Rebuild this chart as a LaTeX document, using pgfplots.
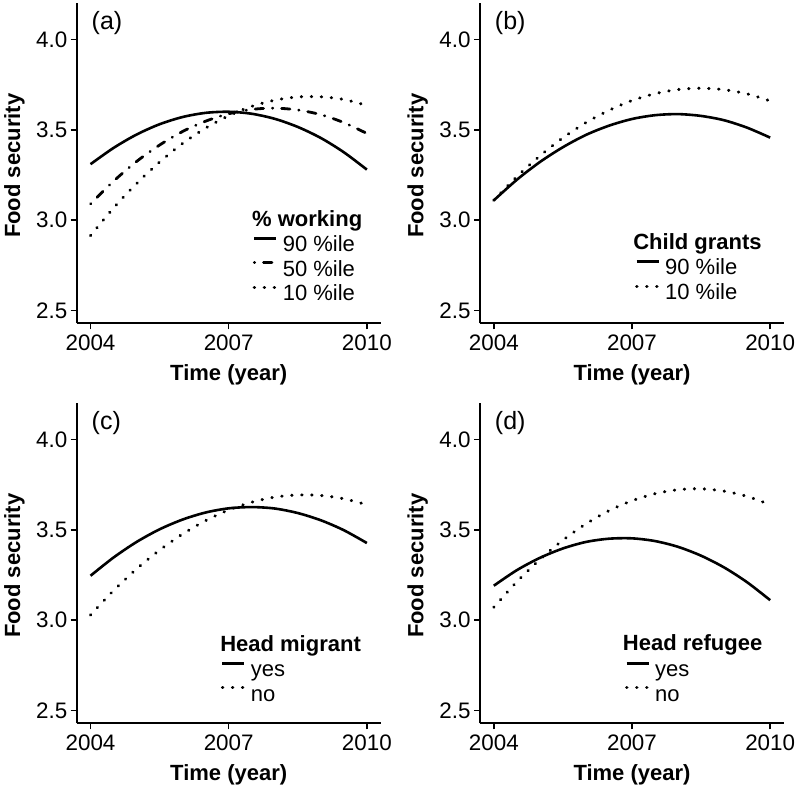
\documentclass[border=0pt]{standalone}
\usepackage{fontspec}
\setmainfont{Liberation Sans}
\usepackage{pgfplots}
\usepackage{pgfplotstable}
\pgfplotsset{compat=1.18}

\pgfplotstableread{
t s m d
2004   3.310 3.091 2.915
2004.5 3.400 3.216 3.068
2005   3.474 3.325 3.203
2005.5 3.531 3.416 3.322
2006   3.571 3.491 3.425
2006.5 3.594 3.548 3.510
2007   3.600 3.589 3.578
2007.5 3.589 3.613 3.630
2008   3.561 3.620 3.664
2008.5 3.516 3.610 3.682
2009   3.455 3.584 3.683
2009.5 3.376 3.540 3.668
2010   3.280 3.480 3.635
}\tablea
\pgfplotstableread{
t s d
2004   3.110 3.111
2004.5 3.224 3.241
2005   3.322 3.356
2005.5 3.404 3.456
2006   3.472 3.540
2006.5 3.523 3.608
2007   3.560 3.662
2007.5 3.581 3.700
2008   3.587 3.723
2008.5 3.577 3.730
2009   3.553 3.722
2009.5 3.512 3.699
2010   3.457 3.660
}\tableb
\pgfplotstableread{
t s d
2004   3.246 3.029
2004.5 3.347 3.164
2005   3.433 3.284
2005.5 3.503 3.388
2006   3.557 3.477
2006.5 3.596 3.551
2007   3.619 3.610
2007.5 3.626 3.653
2008   3.618 3.681
2008.5 3.593 3.693
2009   3.553 3.690
2009.5 3.498 3.672
2010   3.427 3.639
}\tablec
\pgfplotstableread{
t s d
2004   3.191 3.072
2004.5 3.277 3.213
2005   3.345 3.336
2005.5 3.397 3.443
2006   3.433 3.533
2006.5 3.451 3.606
2007   3.453 3.661
2007.5 3.438 3.700
2008   3.406 3.722
2008.5 3.357 3.727
2009   3.292 3.714
2009.5 3.210 3.685
2010   3.111 3.639
}\tabled

\tikzset{
  solidline/.style={black, line width=1.3pt},
  dotline/.style={black, line width=1.55pt, line cap=round, dash pattern=on 0.2pt off 4.8pt},
  dashdotline/.style={black, line width=1.4pt, line cap=round, dash pattern=on 0.2pt off 4.4pt on 4.2pt off 4.4pt},
  plabel/.style={anchor=base west, inner sep=0pt, font=\fontsize{12.5}{14}\selectfont},
  ltitle/.style={anchor=base west, inner sep=0pt, font=\fontsize{11}{13}\selectfont\bfseries},
}
\pgfplotsset{
  panel/.style={
    scale only axis, width=152pt, height=160pt,
    xmin=2003.7, xmax=2010.3, ymin=2.43, ymax=4.2,
    axis x line*=bottom, axis y line*=left,
    axis line style={line width=1pt, black},
    xtick={2004,2007,2010}, xticklabels={2004,2007,2010},
    ytick={2.5,3,3.5,4}, yticklabels={2.5,3.0,3.5,4.0},
    tick align=outside, major tick length=3pt,
    every tick/.style={black, line width=0.8pt},
    tick label style={font=\fontsize{11.2}{13}\selectfont},
    yticklabel style={inner sep=1.5pt},
    xticklabel style={inner sep=2.5pt},
    xlabel={Time (year)}, ylabel={Food security},
    label style={font=\fontsize{11}{13}\selectfont\bfseries},
    xlabel style={at={(axis description cs:0.5,-0.128)}, anchor=north, inner sep=0pt},
    ylabel style={at={(axis description cs:-0.170,0.492)}, anchor=south, inner sep=0pt},
    legend cell align=left,
    legend image code/.code={\draw[#1] (0pt,3.9pt) -- (11pt,3.9pt);},
    legend style={draw=none, fill=none, inner sep=0pt, outer sep=0pt,
      row sep=1.75pt, column sep=2.5pt, anchor=north west,
      font=\fontsize{11}{13}\selectfont,
      nodes={inner sep=0pt, outer sep=0pt, text height=8pt, text depth=2.5pt}},
    clip=false,
  },
}

\begin{document}
\begin{tikzpicture}
\path[use as bounding box] (0,0) rectangle (400pt,396.5pt);

% (a)
\begin{axis}[panel, at={(38.35pt,234.85pt)}, anchor=south west,
  legend style={at={(axis description cs:0.579,0.274)}}]
\addplot[solidline, smooth] table[x=t, y=s] {\tablea};
\addlegendentry{90 \%ile}
\addplot[dashdotline, smooth] table[x=t, y=m] {\tablea};
\addlegendentry{50 \%ile}
\addplot[dotline, smooth] table[x=t, y=d] {\tablea};
\addlegendentry{10 \%ile}
\node[plabel] at (axis description cs:0.048,0.917) {(a)};
\node[ltitle] at (axis description cs:0.576,0.304) {\% working};
\end{axis}

% (b)
\begin{axis}[panel, at={(240pt,234.85pt)}, anchor=south west,
  legend style={at={(axis description cs:0.510,0.201)}}]
\addplot[solidline, smooth] table[x=t, y=s] {\tableb};
\addlegendentry{90 \%ile}
\addplot[dotline, smooth] table[x=t, y=d] {\tableb};
\addlegendentry{10 \%ile}
\node[plabel] at (axis description cs:0.048,0.917) {(b)};
\node[ltitle] at (axis description cs:0.503,0.231) {Child grants};
\end{axis}

% (c)
\begin{axis}[panel, at={(38.35pt,34.85pt)}, anchor=south west,
  legend style={at={(axis description cs:0.474,0.196)}}]
\addplot[solidline, smooth] table[x=t, y=s] {\tablec};
\addlegendentry{yes}
\addplot[dotline, smooth] table[x=t, y=d] {\tablec};
\addlegendentry{no}
\node[plabel] at (axis description cs:0.048,0.917) {(c)};
\node[ltitle] at (axis description cs:0.471,0.224) {Head migrant};
\end{axis}

% (d)
\begin{axis}[panel, at={(240pt,34.85pt)}, anchor=south west,
  legend style={at={(axis description cs:0.477,0.196)}}]
\addplot[solidline, smooth] table[x=t, y=s] {\tabled};
\addlegendentry{yes}
\addplot[dotline, smooth] table[x=t, y=d] {\tabled};
\addlegendentry{no}
\node[plabel] at (axis description cs:0.048,0.917) {(d)};
\node[ltitle] at (axis description cs:0.469,0.227) {Head refugee};
\end{axis}
\end{tikzpicture}
\end{document}
